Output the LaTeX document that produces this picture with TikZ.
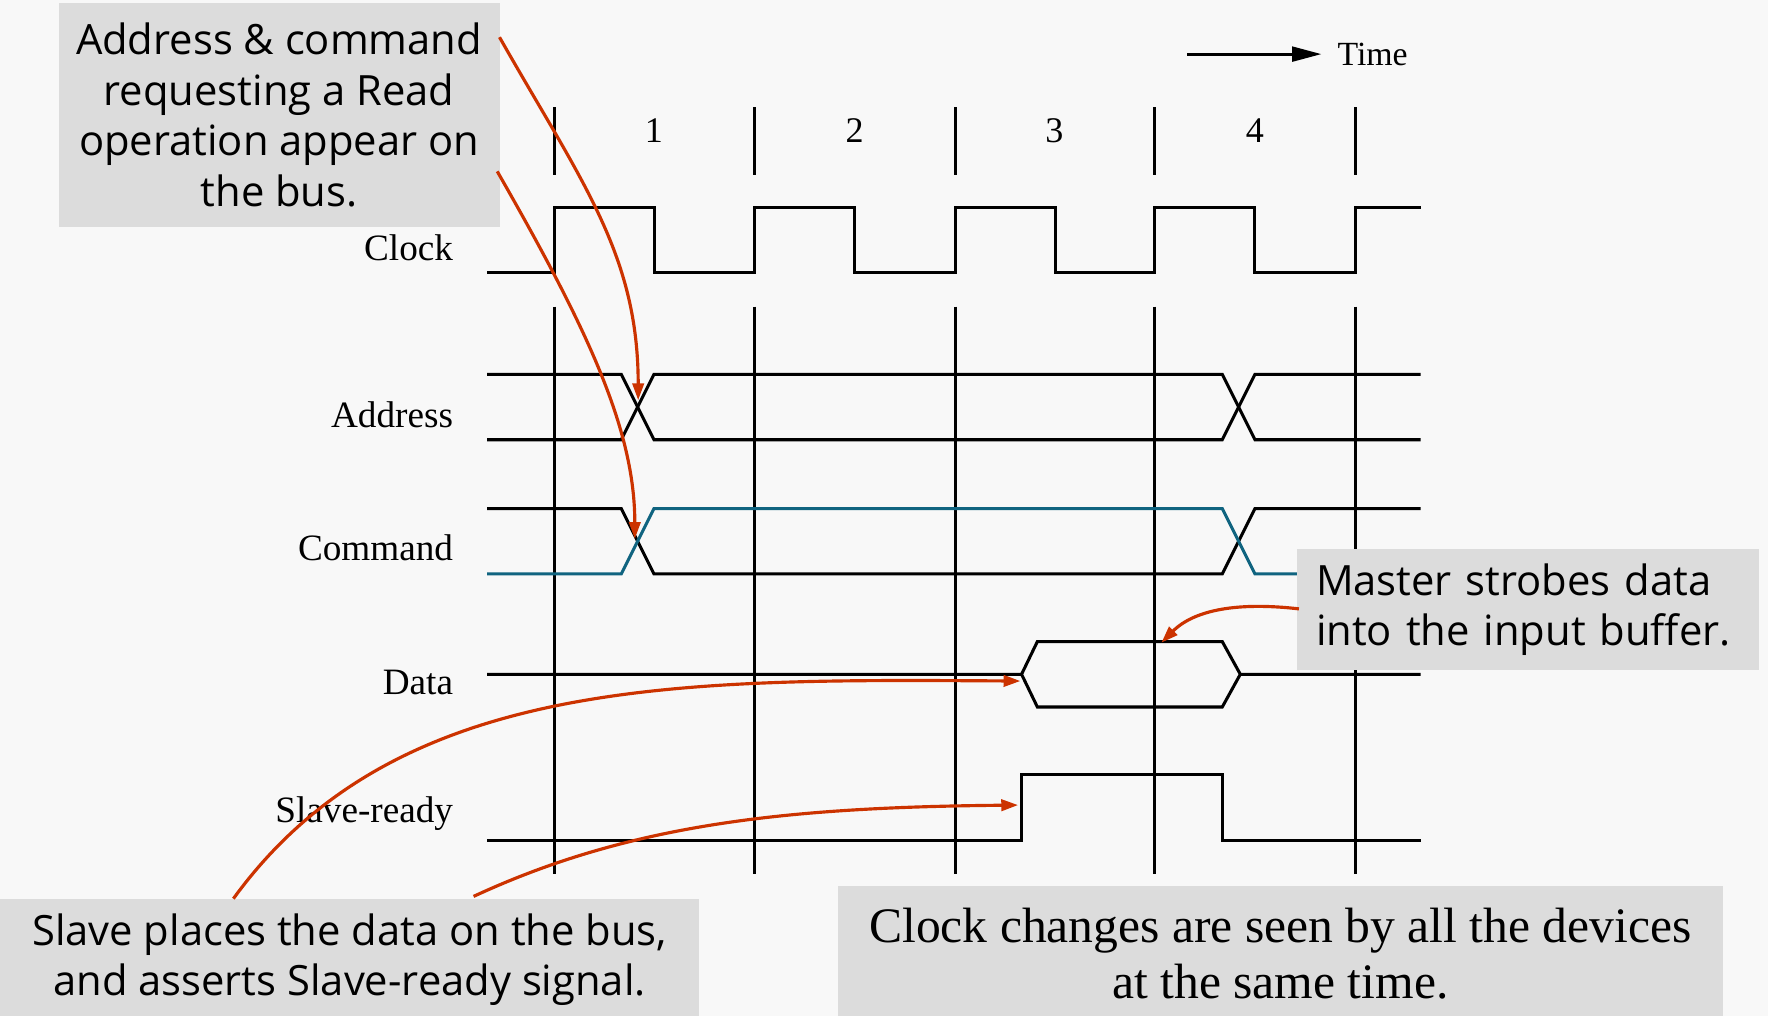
\documentclass[tikz,border=0pt]{standalone}
\usepackage{fontspec}
\setmainfont{Liberation Serif}
\newfontfamily\comicfont{Open Sans}
\usepackage{xcolor}
\usetikzlibrary{arrows.meta}
\definecolor{bggray}{RGB}{248,248,248}
\definecolor{notegray}{RGB}{220,220,220}
\definecolor{arrowred}{RGB}{204,51,0}
\definecolor{cmdteal}{RGB}{16,100,128}

\begin{document}
\begin{tikzpicture}[x=1pt,y=-1pt,
		wave/.style={line width=2.7pt},
		sig/.style={anchor=east,inner sep=0pt,font=\fontsize{33}{36}\selectfont},
		cyc/.style={inner sep=0pt,font=\fontsize{32}{36}\selectfont},
		note/.style={fill=notegray,inner sep=0pt,align=center,font=\comicfont\fontsize{37}{45}\selectfont},
		pointer/.style={draw=arrowred,line width=2.8pt,-{Triangle[length=15pt,width=10pt]}}]
				\fill[bggray] (0,0) rectangle (1568,901);
				\useasboundingbox (0,0) rectangle (1568,901);
				
				% cycle boundaries
				\foreach \x in {492,669,847,1024,1202}{
					\draw[wave] (\x,95)--(\x,155);
					\draw[wave] (\x,272)--(\x,775);
				}
				\foreach \n/\x in {1/580, 2/758, 3/935, 4/1113}{
					\node[cyc] (c\n) at (\x,116){\n};
				}
				
				% time arrow
				\coordinate (tstart) at (1053,48);
				\node[cyc,anchor=west,font=\fontsize{30}{36}\selectfont] (time) at (1186,48){Time};
				\draw[wave,-{Triangle[length=26pt,width=13pt]}] (tstart)--([xshift=-14pt]time.west);
				
				% signal names
				\foreach \n/\y/\t in
				{clk/220/Clock, addr/368/Address, cmd/486/Command, data/605/Data, srdy/722/Slave-ready}{
					\node[sig] (\n) at (402,\y){\t};
				}
				
				% clock
				\draw[wave] (432,242) \foreach \x in {492,669,847,1024}{
					-- (\x,242) -- (\x,184) -- (\x+88.75,184) -- (\x+88.75,242)}
					-- (1202,242) -- (1202,184) -- (1260,184);
				
				% address and command
				\foreach \a/\b in {332/390, 390/332}{
					\draw[wave] (432,\a)--(551,\a)--(580,\b)--(1084,\b)--(1113,\a)--(1260,\a);
				}
				\foreach \a/\b/\c in {451/509/black, 509/451/cmdteal}{
					\draw[wave,\c] (432,\a)--(551,\a)--(580,\b)--(1084,\b)--(1113,\a)--(1260,\a);
				}
				
				% data
				\draw[wave] (432,598)--(906,598)--(920,569)--(1084,569)--(1100,598)--(1260,598)
					(1100,598)--(1084,627)--(920,627)--(906,598);
				
				% slave-ready
				\draw[wave] (432,745)--(906,745)--(906,687)--(1084,687)--(1084,745)--(1260,745);
				
				% notes
				\node[note,minimum width=391pt,minimum height=198pt] (readq) at (247.5,102)
					{Address \& command\\requesting a Read\\operation appear on\\the bus.};
				\node[note,anchor=north west,align=left,text width=376pt,inner xsep=17pt,minimum height=107pt] (strobe) at (1150,487)
					{Master strobes data\\into the input buffer.};
				\node[note,minimum width=620pt,minimum height=108pt] (slave) at (310,851)
					{Slave places the data on the bus,\\and asserts Slave-ready signal.};
				\node[note,minimum width=785pt,minimum height=120pt,font=\fontsize{44}{50}\selectfont] (same) at (1135.5,846)
					{Clock changes are seen by all the devices\\at the same time.};
				
				% pointers
				\foreach \n/\x/\y in
				{rqa/443/33, rqb/441/152, addrX/566/355, cmdX/563/478,
				 stb/1152/540, hexT/1030/570, slA/207/797, slB/420/795,
				 hexL/905/604, rdyU/903/714}{
					\coordinate (\n) at (\x,\y);
				}
				\draw[pointer] (rqa) .. controls (515,160) and (566,225) .. (addrX);
				\draw[pointer] (rqb) .. controls (520,290) and (563,380) .. (cmdX);
				\draw[pointer] (stb) .. controls (1100,534) and (1060,540) .. (hexT);
				\draw[pointer] (slA) .. controls (350,600) and (600,602) .. (hexL);
				\draw[pointer] (slB) .. controls (560,730) and (700,716) .. (rdyU);
			\end{tikzpicture}
\end{document}
